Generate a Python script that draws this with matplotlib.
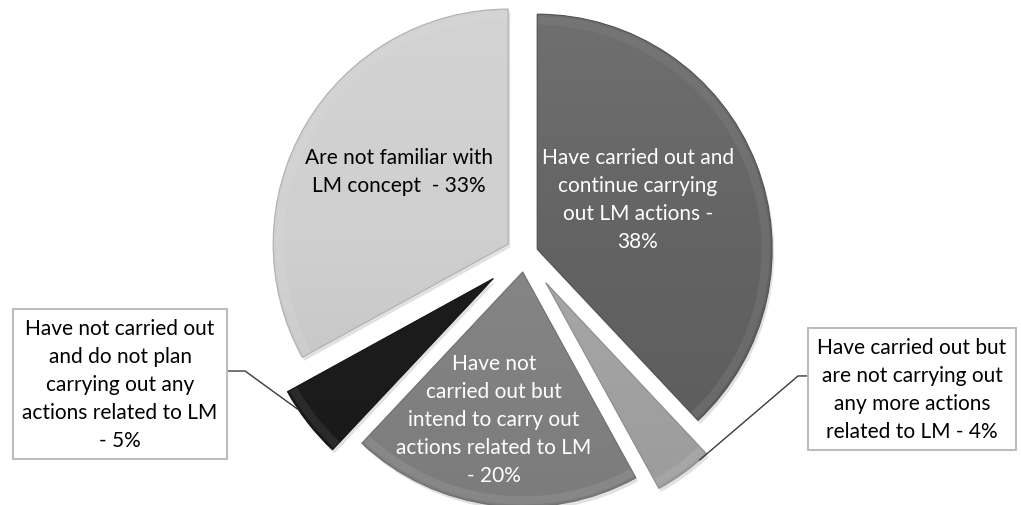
import numpy as np
import matplotlib.pyplot as plt
from matplotlib import patheffects as pe
from matplotlib.patches import Wedge
from matplotlib.colors import LinearSegmentedColormap, to_rgb

plt.rcParams['font.family'] = ['Lato', 'DejaVu Sans']

labels = [
    "Have carried out and\ncontinue carrying\nout LM actions -\n38%",
    "Have carried out but\nare not carrying out\nany more actions\nrelated to LM - 4%",
    "Have not\ncarried out but\nintend to carry out\nactions related to LM\n- 20%",
    "Have not carried out\nand do not plan\ncarrying out any\nactions related to LM\n- 5%",
    "Are not familiar with\nLM concept  - 33%",
]
shares = [38, 4, 20, 5, 33]
explode = [0.056, 0.15, 0.077, 0.17, 0.083]
colors = ['#636363', '#a6a6a6', '#858585', '#1c1c1c', '#cfcfcf']
text_colors = ['white', 'black', 'white', 'black', 'black']

fig = plt.figure(figsize=(10.21, 5.06), dpi=100)
ax = fig.add_axes([0, 0, 1, 1])

wedges, _ = ax.pie(shares, explode=explode, colors=colors, startangle=90,
                   counterclock=False, radius=1,
                   wedgeprops=dict(linewidth=0))

def shade(c, f):
    r, g, b = to_rgb(c)
    if f >= 1:
        return (r + (1 - r) * (f - 1), g + (1 - g) * (f - 1), b + (1 - b) * (f - 1))
    return (r * f, g * f, b * f)

grad = np.linspace(1, 0, 256).reshape(-1, 1)
for w, c in zip(wedges, colors):
    w.set_path_effects([pe.SimplePatchShadow(offset=(1.5, -2.5), shadow_rgbFace='#8a8a8a', alpha=0.25),
                        pe.Normal()])
    cx, cy = w.center
    cmap = LinearSegmentedColormap.from_list('g', [shade(c, 0.93), c, shade(c, 1.08)])
    im = ax.imshow(grad, cmap=cmap, extent=[cx - 1, cx + 1, cy - 1, cy + 1],
                   aspect='auto', zorder=w.get_zorder() + 0.1, interpolation='bilinear')
    im.set_clip_path(w)
    # soft bevel along the rim
    ax.add_patch(Wedge((cx, cy), 0.99, w.theta1, w.theta2, width=0.035, fill=True,
                       facecolor=shade(c, 1.2), alpha=0.35, lw=0, zorder=w.get_zorder() + 0.2))
    ax.add_patch(Wedge((cx, cy), 1, w.theta1, w.theta2, fill=False,
                       edgecolor=shade(c, 0.85), lw=0.8, zorder=w.get_zorder() + 0.3))

# labels inside the slices
inside = {0: (0.481, 0.234), 2: (-0.132, -0.702), 4: (-0.537, 0.355)}
for i, (x, y) in inside.items():
    ax.text(x, y, labels[i], ha='center', va='center', fontsize=15,
            color=text_colors[i], linespacing=1.5, zorder=10)

# call-out boxes with leader lines for the thin slices
callouts = {1: ((1.647, -0.574), -49, (1.162, -0.519), 1.25),
            3: ((-1.723, -0.553), -146, (-1.191, -0.498), -1.30)}
for i, (pos, ang, elbow, end_x) in callouts.items():
    w = wedges[i]
    cx, cy = w.center
    ax_, ay_ = cx + np.cos(np.radians(ang)), cy + np.sin(np.radians(ang))
    ax.plot([ax_, elbow[0], end_x], [ay_, elbow[1], elbow[1]], color='#3a3a3a', lw=1, zorder=8)
    ax.text(pos[0], pos[1], labels[i], ha='center', va='center', fontsize=15,
            color='black', linespacing=1.5, zorder=11,
            bbox=dict(boxstyle='square,pad=0.45', facecolor='white', edgecolor='#bcbcbc', lw=1.5))

ax.set_xlim(-2.234, 2.111)
ax.set_ylim(-1.068, 1.085)
ax.set_aspect('equal')
ax.axis('off')

fig.savefig('out.png', dpi=100, facecolor='white')
